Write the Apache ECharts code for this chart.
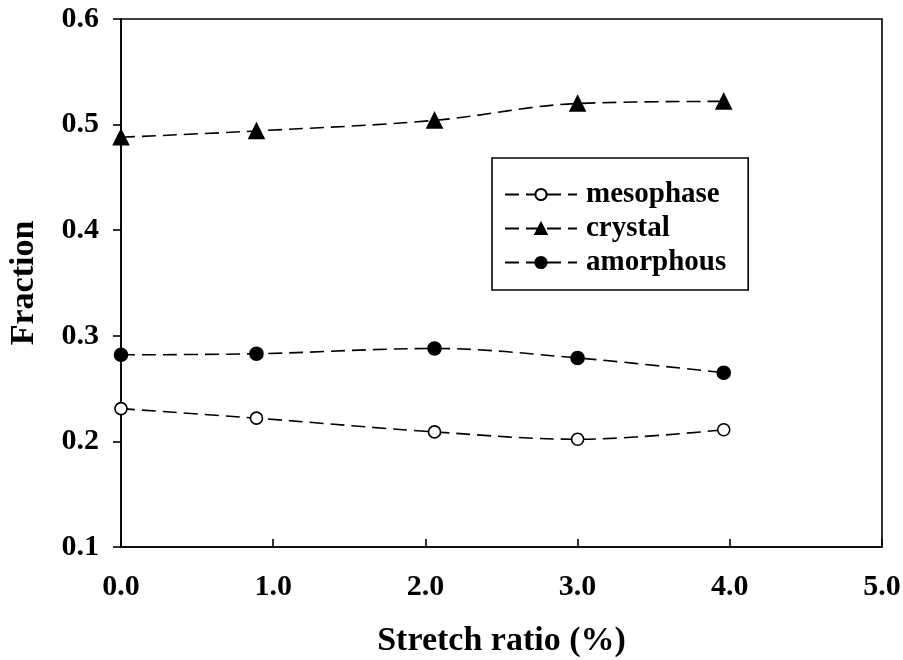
<!DOCTYPE html>
<html>
<head>
<meta charset="utf-8">
<script src="https://cdn.jsdelivr.net/npm/echarts@6/dist/echarts.min.js"></script>
<style>
  html, body { margin: 0; padding: 0; background: #fff; }
  #chart { width: 903px; height: 660px; }
</style>
</head>
<body>
<div id="chart"></div>
<script>
// Stretch ratio (%) at which each sample was measured
var stretch = [0, 0.89, 2.06, 3.0, 3.96];

// Phase fractions
var mesophase = [0.231, 0.222, 0.209, 0.202, 0.211];
var crystal   = [0.488, 0.494, 0.504, 0.520, 0.522];
var amorphous = [0.282, 0.283, 0.288, 0.279, 0.265];

// Axis tick settings
var xTicks = { min: 0, max: 5, interval: 1 };
var yTicks = { min: 0.1, max: 0.6, interval: 0.1 };

var FONT = '"Liberation Serif", "Times New Roman", serif';

function pairs(ys) {
  return stretch.map(function (x, i) { return [x, ys[i]]; });
}

function makeSeries(name, ys, symbol, size, fill) {
  return {
    name: name,
    type: 'line',
    data: pairs(ys),
    smooth: 0.35,
    symbol: symbol,
    symbolSize: size,
    showSymbol: true,
    lineStyle: { color: '#000', width: 1.6, type: [14, 7] },
    itemStyle: { color: fill, borderColor: '#000', borderWidth: 1.6 },
    emphasis: { disabled: true },
    z: 3
  };
}

var chart = echarts.init(document.getElementById('chart'), null, { renderer: 'canvas' });

chart.setOption({
  animation: false,
  backgroundColor: '#fff',
  grid: {
    left: 121, right: 21, top: 19, bottom: 113,
    containLabel: false,
    outerBoundsMode: 'none',
    show: true, borderColor: '#000', borderWidth: 1.6, backgroundColor: 'transparent'
  },
  legend: {
    orient: 'vertical',
    left: 492,
    top: 158,
    padding: [22, 22, 13, 12],
    itemGap: 5,
    itemWidth: 72,
    itemHeight: 14,
    borderColor: '#000',
    borderWidth: 1.6,
    backgroundColor: '#fff',
    data: ['mesophase', 'crystal', 'amorphous'],
    textStyle: { fontFamily: FONT, fontWeight: 'bold', fontSize: 29, color: '#000', padding: [0, 0, 0, 4] }
  },
  xAxis: {
    type: 'value',
    min: xTicks.min, max: xTicks.max, interval: xTicks.interval,
    name: 'Stretch ratio (%)',
    nameLocation: 'middle',
    nameGap: 77,
    nameTextStyle: { fontFamily: FONT, fontWeight: 'bold', fontSize: 34, color: '#000' },
    axisLine: { show: true, lineStyle: { color: '#000', width: 1.6 } },
    axisTick: { show: true, inside: true, length: 8, lineStyle: { color: '#000', width: 1.6 } },
    axisLabel: {
      margin: 25, color: '#000', fontFamily: FONT, fontWeight: 'bold', fontSize: 30,
      formatter: function (v) { return v.toFixed(1); }
    },
    splitLine: { show: false }
  },
  yAxis: {
    type: 'value',
    min: yTicks.min, max: yTicks.max, interval: yTicks.interval,
    name: 'Fraction',
    nameLocation: 'middle',
    nameGap: 80,
    nameTextStyle: { fontFamily: FONT, fontWeight: 'bold', fontSize: 34, color: '#000' },
    axisLine: { show: true, lineStyle: { color: '#000', width: 1.6 } },
    axisTick: { show: true, inside: false, length: 8, lineStyle: { color: '#000', width: 1.6 } },
    axisLabel: {
      margin: 22, color: '#000', fontFamily: FONT, fontWeight: 'bold', fontSize: 30,
      formatter: function (v) { return v.toFixed(1); }
    },
    splitLine: { show: false }
  },
  series: [
    makeSeries('mesophase', mesophase, 'circle', 12, '#fff'),
    makeSeries('crystal', crystal, 'triangle', 15, '#000'),
    makeSeries('amorphous', amorphous, 'circle', 13, '#000')
  ]
});
</script>
</body>
</html>
